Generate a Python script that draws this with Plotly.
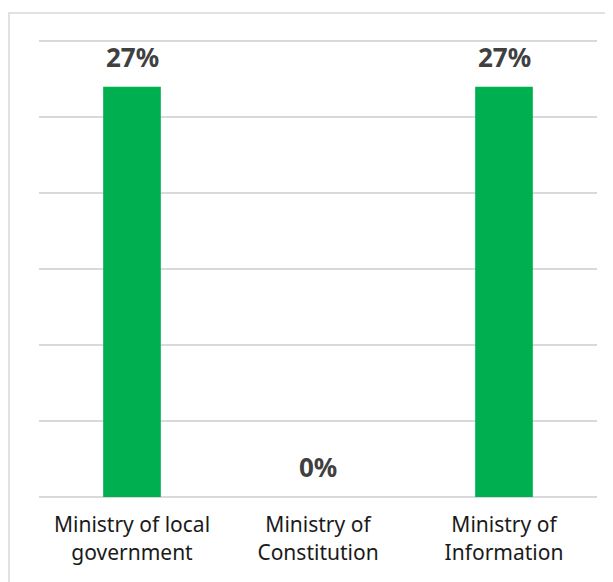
import plotly.graph_objects as go

categories = ["Ministry of local<br>government", "Ministry of<br>Constitution", "Ministry of<br>Information"]
values = [27, 0, 27]
y_ticks = [0, 5, 10, 15, 20, 25, 30]

FONT = "Noto Sans"
fig = go.Figure()
fig.add_trace(go.Bar(
    x=categories, y=values,
    marker=dict(color="#00B050", line=dict(width=0)),
    width=0.31, hoverinfo="skip",
))

for c, v in zip(categories, values):
    fig.add_annotation(
        x=c, y=v, text=f"<b>{v}%</b>", showarrow=False,
        yanchor="bottom", yshift=10,
        font=dict(family=FONT, size=26, color="#404040"),
    )

fig.add_shape(type="rect", xref="paper", yref="paper",
              x0=-0.0538, x1=1.05, y0=-0.25, y1=1.0545,
              line=dict(color="#d9d9d9", width=1.5), fillcolor="rgba(0,0,0,0)", layer="below")

fig.update_layout(
    width=613, height=582,
    margin=dict(l=31, r=24, t=30, b=93),
    paper_bgcolor="white", plot_bgcolor="white",
    showlegend=False,
    font=dict(family=FONT, size=21, color="#1a1a1a"),
    xaxis=dict(showgrid=False, showline=False, ticks="outside", ticklen=9, tickcolor="rgba(0,0,0,0)",
               tickfont=dict(family=FONT, size=21, color="#1a1a1a")),
    yaxis=dict(range=[0, 30.2], tickvals=y_ticks, showticklabels=False, showgrid=True,
               gridcolor="#d9d9d9", gridwidth=1.5, zeroline=True, zerolinecolor="#d9d9d9",
               zerolinewidth=1.5, showline=False),
)
fig.write_html("out.html")
